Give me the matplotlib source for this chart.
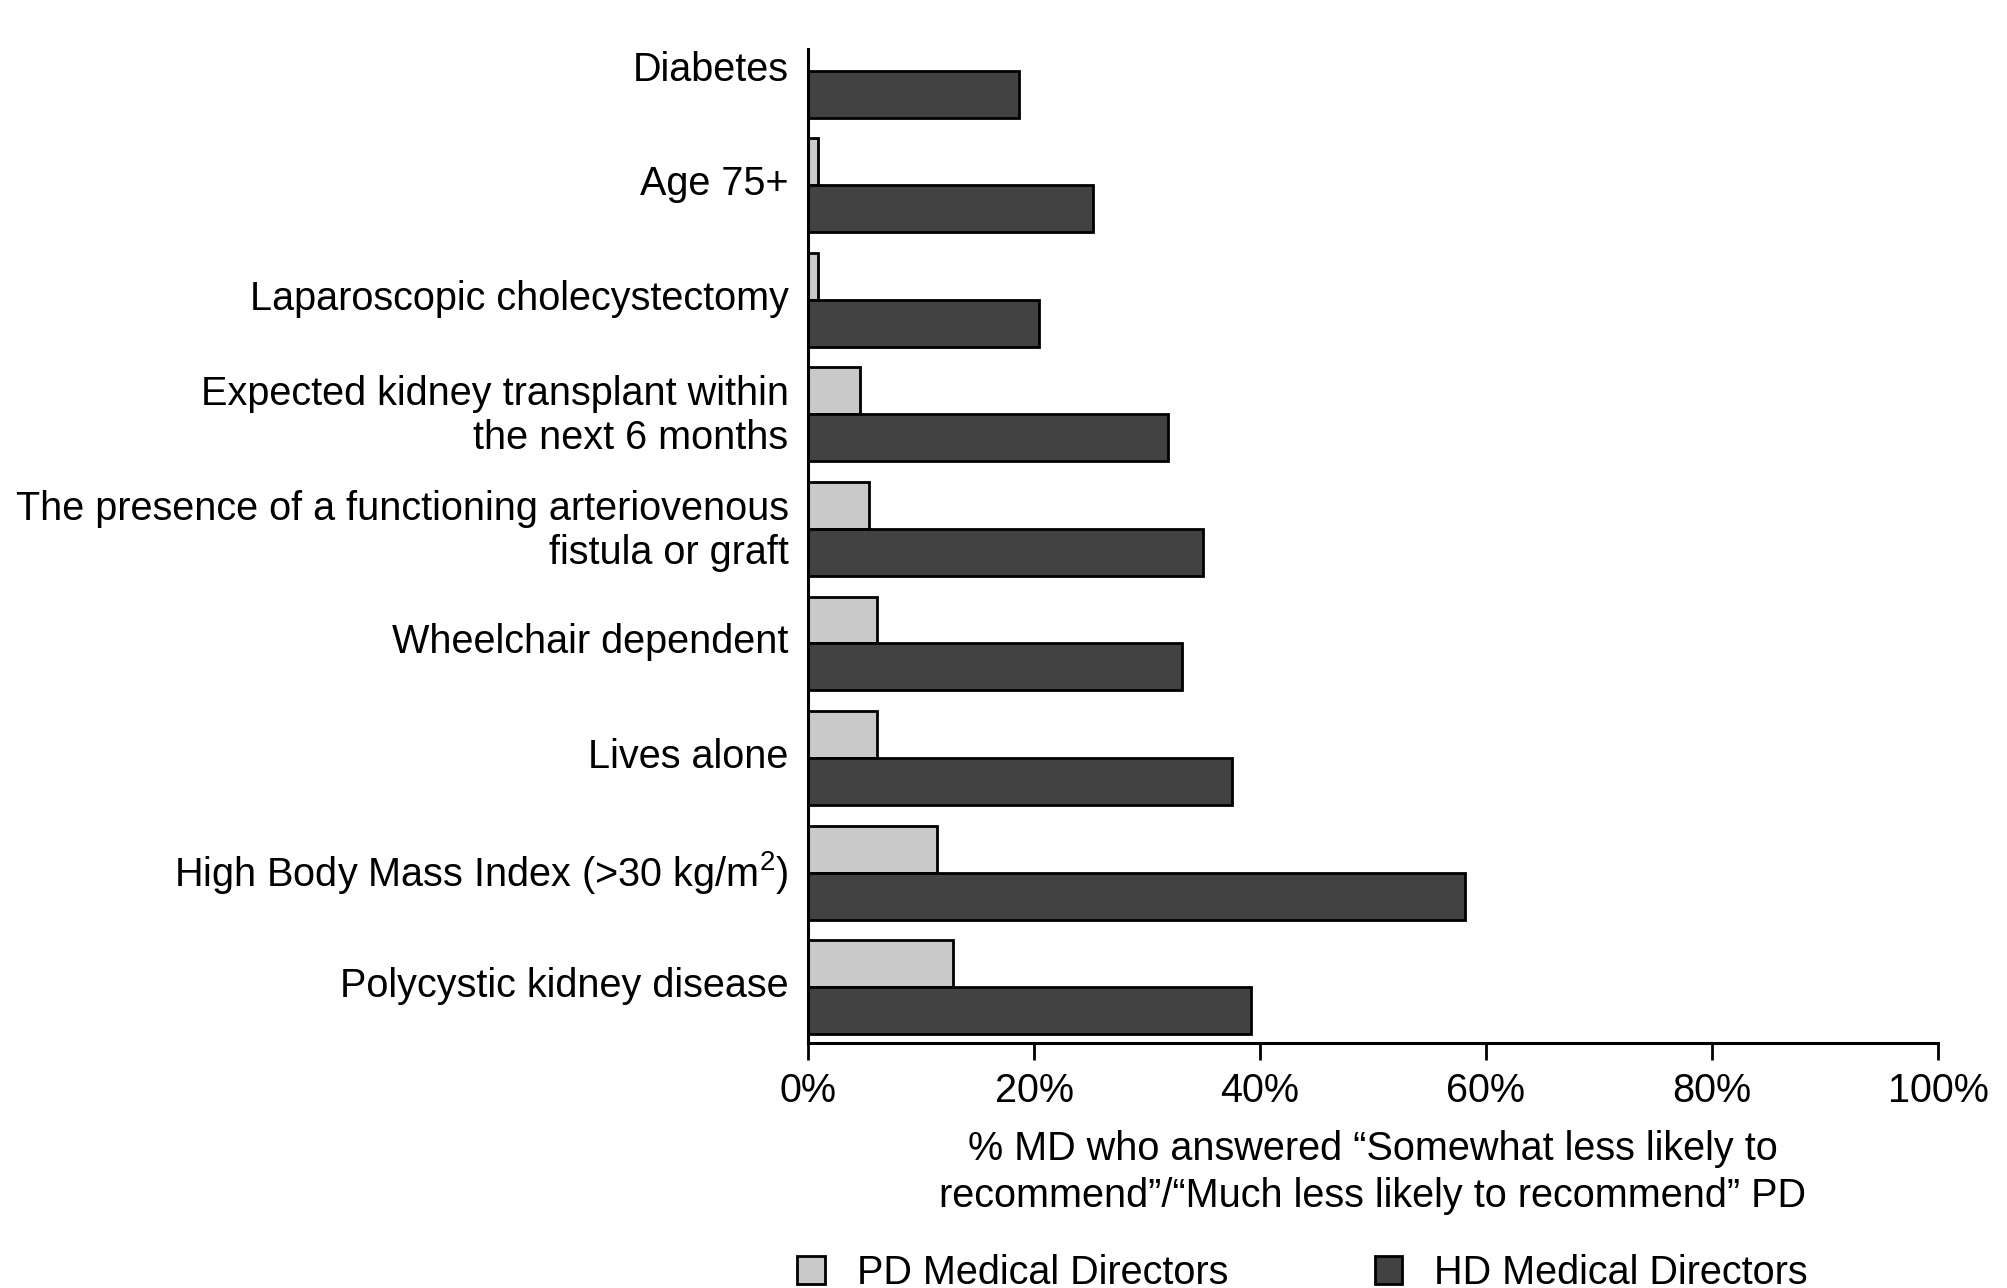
import matplotlib
matplotlib.use("Agg")
import matplotlib.pyplot as plt
import matplotlib.transforms as mtransforms
import numpy as np

plt.rcParams['font.family'] = ['Liberation Sans', 'DejaVu Sans']

# data, top to bottom
categories = [
    "Diabetes",
    "Age 75+",
    "Laparoscopic cholecystectomy",
    "Expected kidney transplant within\nthe next 6 months",
    "The presence of a functioning arteriovenous\nfistula or graft",
    "Wheelchair dependent",
    "Lives alone",
    "High Body Mass Index (>30 kg/m$^2$)",
    "Polycystic kidney disease",
]
pd_md = [0.0, 0.9, 0.9, 4.6, 5.4, 6.1, 6.1, 11.4, 12.8]
hd_md = [18.7, 25.2, 20.4, 31.9, 35.0, 33.1, 37.5, 58.1, 39.2]
xticks = [0, 20, 40, 60, 80, 100]

plt.rcParams['mathtext.fontset'] = 'custom'
plt.rcParams['mathtext.rm'] = 'Liberation Sans'
plt.rcParams['mathtext.it'] = 'Liberation Sans'

fs = 28.5
fig = plt.figure(figsize=(20.07, 12.88), dpi=100)
ax = fig.add_axes([0.4026, 0.19, 0.9656 - 0.4026, 0.962 - 0.19])

y = np.arange(len(categories))
h = 0.41
ax.barh(y - h / 2, pd_md, height=h, color='#c9c9c9', edgecolor='black', linewidth=2,
        label="PD Medical Directors")
ax.barh(y + h / 2, hd_md, height=h, color='#424242', edgecolor='black', linewidth=2,
        label="HD Medical Directors")

ax.set_ylim(8.49, -0.19)
ax.set_xlim(0, 100)
ax.set_yticks(y)
ax.set_yticklabels(categories, fontsize=fs, linespacing=1.2)
ax.tick_params(axis='y', length=0, pad=14)
# nudge category labels slightly upward
shift = mtransforms.ScaledTranslation(0, 5 / 100, fig.dpi_scale_trans)
for lab in ax.get_yticklabels():
    lab.set_transform(lab.get_transform() + shift)

ax.set_xticks(xticks)
ax.set_xticklabels([str(t) + "%" for t in xticks], fontsize=fs)
ax.tick_params(axis='x', length=12, width=2, pad=9)

for s in ['top', 'right']:
    ax.spines[s].set_visible(False)
for s in ['left', 'bottom']:
    ax.spines[s].set_linewidth(2.2)

ax.set_xlabel("% MD who answered \u201cSomewhat less likely to\n"
              "recommend\u201d/\u201cMuch less likely to recommend\u201d PD",
              fontsize=fs, labelpad=14, linespacing=1.3)

fig.legend(loc='center', bbox_to_anchor=(0.649, 0.012), ncol=2, frameon=False,
           fontsize=fs, handlelength=0.7, handleheight=0.7, columnspacing=3.7,
           handletextpad=0.8)

fig.savefig("out.png", dpi=100)
